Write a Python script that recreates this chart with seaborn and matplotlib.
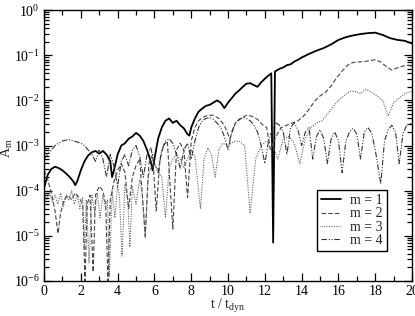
import numpy as np
import pandas as pd
import matplotlib
matplotlib.use("Agg")
import matplotlib.pyplot as plt
import seaborn as sns
from matplotlib.ticker import MultipleLocator, LogLocator

# log10 of A_m
t1 = [0.0, 0.2, 0.4, 0.6, 0.8, 1.0, 1.2, 1.4, 1.6, 1.7, 1.8, 2.0, 2.2, 2.4, 2.6, 2.8,
      3.0, 3.2, 3.4, 3.6, 3.7, 3.8, 4.0, 4.2, 4.4, 4.6, 4.8, 5.0, 5.2, 5.4, 5.6, 5.8,
      5.9, 6.0, 6.2, 6.4, 6.6, 6.8, 7.0, 7.2, 7.4, 7.6, 7.8, 7.9, 8.0, 8.2, 8.4, 8.6,
      8.8, 9.0, 9.2, 9.4, 9.6, 9.8, 10.0, 10.2, 10.4, 10.6, 10.8, 11.0, 11.2, 11.4,
      11.6, 11.8, 12.0, 12.2, 12.35, 12.45, 12.55, 12.8, 13.0, 13.2, 13.4, 13.6, 13.8,
      14.0, 14.4, 14.8, 15.2, 15.6, 16.0, 16.4, 16.8, 17.2, 17.6, 18.0, 18.4, 18.8,
      19.2, 19.6, 20.0]
m1 = [-3.95, -3.65, -3.52, -3.47, -3.5, -3.55, -3.62, -3.7, -3.8, -3.88, -3.8, -3.55,
      -3.35, -3.22, -3.15, -3.12, -3.18, -3.12, -3.2, -3.35, -3.7, -3.55, -3.2, -3.0,
      -2.95, -2.85, -2.8, -2.72, -2.78, -2.9, -3.1, -3.35, -3.55, -3.3, -2.85, -2.6,
      -2.45, -2.4, -2.5, -2.45, -2.55, -2.62, -2.75, -2.78, -2.6, -2.4, -2.25, -2.18,
      -2.12, -2.1, -2.05, -2.0, -2.05, -2.17, -2.05, -1.95, -1.85, -1.78, -1.7, -1.63,
      -1.62, -1.66, -1.7, -1.6, -1.52, -1.45, -1.4, -5.15, -1.36, -1.3, -1.27, -1.22,
      -1.2, -1.14, -1.1, -1.05, -0.97, -0.9, -0.84, -0.76, -0.66, -0.6, -0.56, -0.53,
      -0.51, -0.5, -0.55, -0.62, -0.66, -0.68, -0.74]

t2 = [0.0, 0.2, 0.4, 0.6, 0.76, 0.9, 1.1, 1.3, 1.5, 1.7, 1.9, 2.1, 2.23, 2.35, 2.5,
      2.67, 2.8, 3.0, 3.2, 3.35, 3.48, 3.6, 3.8, 4.0, 4.2, 4.4, 4.6, 4.8, 5.0, 5.2, 5.5,
      5.7, 5.9, 6.1, 6.3, 6.5, 6.7, 7.0, 7.2, 7.4, 7.6, 7.8, 8.0, 8.2, 8.4, 8.6, 8.9,
      9.2, 9.5, 9.8, 10.1, 10.4, 10.7, 11.0, 11.3, 11.6, 11.9, 12.1, 12.3, 12.6, 12.9,
      13.2, 13.5, 13.8, 14.1, 14.4, 14.7, 15.0, 15.3, 15.6, 15.9, 16.2, 16.5, 16.8,
      17.1, 17.4, 17.7, 18.0, 18.3, 18.6, 18.9, 19.2, 19.5, 19.8, 20.0]
m2 = [-3.55, -3.75, -4.05, -4.45, -4.95, -4.5, -4.2, -4.1, -4.2, -4.05, -4.15, -4.3,
      -6.0, -4.3, -4.1, -5.8, -4.1, -3.9, -4.0, -4.3, -6.0, -4.2, -3.8, -3.55, -3.4,
      -3.6, -4.4, -3.7, -3.45, -3.3, -5.0, -3.4, -3.2, -4.45, -3.3, -3.0, -2.9, -4.85,
      -3.1, -2.95, -3.1, -4.15, -2.9, -2.6, -2.45, -2.38, -2.33, -2.33, -2.4, -2.55,
      -2.85, -2.5, -2.4, -2.33, -2.35, -2.42, -2.55, -2.6, -3.1, -2.8, -2.6, -2.55,
      -2.5, -2.45, -2.35, -2.2, -2.02, -1.9, -1.82, -1.68, -1.5, -1.35, -1.22, -1.16,
      -1.15, -1.14, -1.12, -1.1, -1.15, -1.25, -1.33, -1.28, -1.24, -1.22, -1.25]

t3 = [0.0, 0.15, 0.3, 0.45, 0.6, 0.75, 0.9, 1.05, 1.2, 1.35, 1.5, 1.65, 1.8, 1.95,
      2.1, 2.2, 2.3, 2.45, 2.6, 2.75, 2.9, 3.05, 3.2, 3.35, 3.45, 3.55, 3.7, 3.85, 4.0,
      4.1, 4.24, 4.4, 4.55, 4.67, 4.8, 5.0, 5.2, 5.35, 5.5, 5.65, 5.8, 6.0, 6.2, 6.4,
      6.6, 6.8, 7.0, 7.2, 7.4, 7.6, 7.8, 8.0, 8.2, 8.5, 8.7, 8.9, 9.1, 9.3, 9.5, 9.7,
      10.0, 10.3, 10.6, 10.9, 11.2, 11.5, 11.8, 12.1, 12.4, 12.7, 13.0, 13.3, 13.6,
      13.9, 14.2, 14.5, 14.8, 15.1, 15.4, 15.7, 16.0, 16.3, 16.6, 16.9, 17.2, 17.5,
      17.8, 18.1, 18.4, 18.7, 19.0, 19.3, 19.6, 20.0]
m3 = [-4.1, -4.2, -4.05, -4.25, -4.1, -4.3, -4.05, -4.35, -4.1, -4.2, -4.0, -4.3,
      -4.1, -4.4, -4.15, -5.3, -4.2, -5.6, -4.1, -4.5, -4.05, -4.6, -4.1, -4.4, -4.2,
      -5.9, -4.0, -4.6, -3.9, -4.1, -5.45, -3.85, -4.2, -5.25, -3.9, -4.3, -3.75, -4.1,
      -5.05, -3.7, -3.5, -3.4, -3.55, -3.7, -4.6, -3.5, -3.3, -3.2, -3.3, -3.5, -3.3,
      -3.1, -3.25, -4.4, -3.3, -3.05, -3.2, -3.7, -3.1, -2.95, -3.0, -2.92, -2.9, -3.0,
      -4.5, -3.3, -3.0, -2.9, -2.95, -3.3, -2.85, -2.8, -2.95, -3.4, -2.85, -2.6, -2.5,
      -2.45, -2.3, -2.15, -2.0, -1.9, -1.8, -1.8, -1.85, -1.75, -1.82, -1.9, -2.0,
      -2.35, -2.05, -1.95, -1.85, -1.8]

t4 = [0.0, 0.2, 0.4, 0.6, 0.8, 1.0, 1.2, 1.4, 1.6, 1.8, 2.0, 2.2, 2.4, 2.6, 2.8, 3.0,
      3.2, 3.4, 3.6, 3.8, 4.0, 4.2, 4.4, 4.6, 4.8, 5.0, 5.2, 5.4, 5.6, 5.8, 6.0, 6.2,
      6.4, 6.6, 6.8, 7.0, 7.2, 7.4, 7.6, 7.8, 8.0, 8.2, 8.4, 8.6, 8.8, 9.0, 9.2, 9.4,
      9.6, 9.8, 10.0, 10.2, 10.4, 10.6, 10.8, 11.0, 11.2, 11.4, 11.6, 11.8, 12.0, 12.2,
      12.4, 12.6, 12.8, 13.0, 13.2, 13.4, 13.6, 13.8, 14.0, 14.2, 14.4, 14.6, 14.8,
      15.0, 15.2, 15.4, 15.6, 15.8, 16.0, 16.2, 16.4, 16.6, 16.8, 17.0, 17.2, 17.4,
      17.6, 17.8, 18.0, 18.3, 18.5, 18.7, 18.9, 19.1, 19.3, 19.5, 19.7, 20.0]
m4 = [-3.3, -3.2, -3.1, -3.0, -2.95, -2.9, -2.88, -2.87, -2.9, -2.92, -2.95, -3.0,
      -3.1, -3.2, -3.35, -3.1, -3.3, -3.7, -3.2, -3.45, -3.9, -3.35, -3.2, -3.45, -3.1,
      -3.0, -3.25, -3.7, -3.2, -3.05, -3.4, -3.6, -3.1, -2.9, -2.85, -2.95, -3.2, -3.5,
      -3.1, -2.95, -3.3, -2.9, -2.6, -2.45, -2.4, -2.38, -2.42, -2.5, -2.6, -2.8, -3.1,
      -2.7, -2.5, -2.42, -2.38, -2.4, -2.45, -2.55, -2.7, -3.0, -3.4, -2.9, -2.65,
      -2.5, -2.55, -2.7, -3.2, -2.6, -2.5, -2.65, -3.0, -2.7, -2.6, -3.3, -2.8, -2.65,
      -2.85, -3.4, -2.85, -2.7, -2.9, -3.6, -2.9, -2.7, -2.62, -2.75, -3.3, -2.7, -2.6,
      -2.72, -3.1, -3.85, -2.9, -2.65, -2.55, -2.7, -3.4, -2.75, -2.55, -2.5]

labels = ["m = 1", "m = 2", "m = 3", "m = 4"]
series = [(t1, m1), (t2, m2), (t3, m3), (t4, m4)]
styles = ["-", (0, (4, 2)), (0, (1, 1.2)), (0, (5, 1.5, 1, 1.5, 1, 1.5))]
colors = ["black", "#444444", "#666666", "#333333"]
widths = [1.3, 0.8, 0.8, 0.8]

sns.set_style("ticks")
plt.rcParams["font.family"] = ["Liberation Serif", "DejaVu Serif"]
plt.rcParams["mathtext.default"] = "regular"

fig = plt.figure(figsize=(4.15, 3.16), dpi=100)
ax = fig.add_axes([0.106, 0.111, 0.887, 0.857])

for (t, lg), lab, ls, c, w in zip(series, labels, styles, colors, widths):
    df = pd.DataFrame({"t": t, "A": 10.0 ** np.array(lg)})
    sns.lineplot(data=df, x="t", y="A", ax=ax, color=c, linestyle=ls, linewidth=w,
                 label=lab, estimator=None, sort=False)

ax.set_yscale("log")
ax.set_xlim(0, 20)
ax.set_ylim(1e-6, 1)
ax.xaxis.set_major_locator(MultipleLocator(2))
ax.xaxis.set_minor_locator(MultipleLocator(1))
ax.yaxis.set_major_locator(LogLocator(base=10, numticks=10))
ax.yaxis.set_minor_locator(LogLocator(base=10, subs=np.arange(2, 10), numticks=20))
ax.tick_params(which="both", direction="in", top=True, right=True, labelsize=10,
               width=0.9, colors="black")
ax.tick_params(which="major", length=6, pad=3)
ax.tick_params(which="minor", length=3.5)
for s in ax.spines.values():
    s.set_linewidth(1.0)
    s.set_color("black")

ax.set_xlabel("t / t$_{dyn}$", fontsize=10)
ax.set_ylabel("A$_m$", fontsize=10)
ax.xaxis.set_label_coords(0.5, -0.058)
ax.yaxis.set_label_coords(-0.08, 0.49)

leg = ax.legend(loc="upper left", bbox_to_anchor=(0.742, 0.336), fontsize=10,
                frameon=True, fancybox=False, edgecolor="black", framealpha=1,
                handlelength=1.4, handletextpad=0.7, labelspacing=0.02,
                borderpad=0.3, borderaxespad=0)
leg.get_frame().set_linewidth(1.0)

fig.savefig("out.png", dpi=100)
